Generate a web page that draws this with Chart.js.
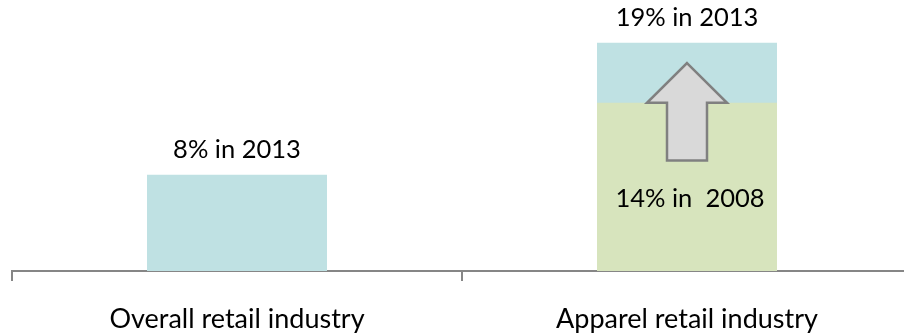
<!DOCTYPE html>
<html>
<head>
<meta charset="utf-8">
<script src="https://cdn.jsdelivr.net/npm/chart.js@4.4.1/dist/chart.umd.min.js"></script>
<style>
  html, body { margin: 0; padding: 0; background: #fff; overflow: hidden; }
  #wrap { width: 912px; height: 333px; }
</style>
</head>
<body>
<div id="wrap"><canvas id="retailChart"></canvas></div>
<script>
//-----------------------------------------
// DATA
//-----------------------------------------
const categories = ["Overall retail industry", "Apparel retail industry"];
const share2013 = [8, 19];
const share2008 = [null, 14];
const labels2013 = ["8% in 2013", "19% in 2013"];
const labels2008 = [null, "14% in  2008"];

// growth arrow on the apparel bar (percent values)
const arrowCategory = 1;
const arrowFrom = 9.2;
const arrowTo = 17.3;

const FONT = "Lato, 'Open Sans', sans-serif";

//-----------------------------------------
// PLUGIN: value labels + growth arrow
//-----------------------------------------
const annotatePlugin = {
  id: "annotate",
  afterDatasetsDraw(chart) {
    const { ctx, scales } = chart;
    const x = scales.x, y = scales.y;

    // arrow
    const cx = x.getPixelForValue(arrowCategory);
    const yTip = y.getPixelForValue(arrowTo);
    const yBase = y.getPixelForValue(share2008[arrowCategory]);
    const yTail = y.getPixelForValue(arrowFrom);
    const headHalf = 40, shaftHalf = 20;
    ctx.save();
    ctx.beginPath();
    ctx.moveTo(cx, yTip);
    ctx.lineTo(cx + headHalf, yBase);
    ctx.lineTo(cx + shaftHalf, yBase);
    ctx.lineTo(cx + shaftHalf, yTail);
    ctx.lineTo(cx - shaftHalf, yTail);
    ctx.lineTo(cx - shaftHalf, yBase);
    ctx.lineTo(cx - headHalf, yBase);
    ctx.closePath();
    ctx.fillStyle = "#d9d9d9";
    ctx.fill();
    ctx.lineWidth = 2.5;
    ctx.strokeStyle = "#808080";
    ctx.lineJoin = "miter";
    ctx.stroke();
    ctx.restore();

    // labels
    ctx.save();
    ctx.font = "25.5px " + FONT;
    ctx.fillStyle = "#000";
    ctx.textAlign = "center";
    ctx.textBaseline = "alphabetic";
    const meta2013 = chart.getDatasetMeta(1);
    meta2013.data.forEach((bar, i) => {
      if (labels2013[i]) ctx.fillText(labels2013[i], bar.x, bar.y - 17);
    });
    const meta2008 = chart.getDatasetMeta(0);
    meta2008.data.forEach((bar, i) => {
      if (labels2008[i]) ctx.fillText(labels2008[i], bar.x + 3, y.getPixelForValue(5.35));
    });
    ctx.restore();
  }
};

//-----------------------------------------
// CHART
//-----------------------------------------
new Chart(document.getElementById("retailChart"), {
  type: "bar",
  data: {
    labels: categories,
    datasets: [
      {
        label: "2008",
        data: share2008,
        backgroundColor: "#d7e4bd",
        barPercentage: 0.8,
        categoryPercentage: 0.5,
        grouped: false
      },
      {
        label: "2013",
        data: share2013,
        backgroundColor: "#bfe1e3",
        barPercentage: 0.8,
        categoryPercentage: 0.5,
        grouped: false
      }
    ]
  },
  options: {
    responsive: true,
    maintainAspectRatio: false,
    animation: false,
    layout: { padding: { left: 12, right: 0, top: 0, bottom: 0 } },
    plugins: {
      legend: { display: false },
      tooltip: { enabled: false }
    },
    scales: {
      x: {
        offset: true,
        afterFit(scale) { scale.height = 62; },
        grid: {
          display: true,
          drawOnChartArea: false,
          offset: true,
          color: "#868686",
          lineWidth: 2,
          tickLength: 10
        },
        border: { color: "#868686", width: 2 },
        ticks: {
          color: "#000",
          padding: 22,
          font: { family: FONT, size: 27 }
        }
      },
      y: {
        display: false,
        min: 0,
        max: 22.55
      }
    }
  },
  plugins: [annotatePlugin]
});
</script>
</body>
</html>
